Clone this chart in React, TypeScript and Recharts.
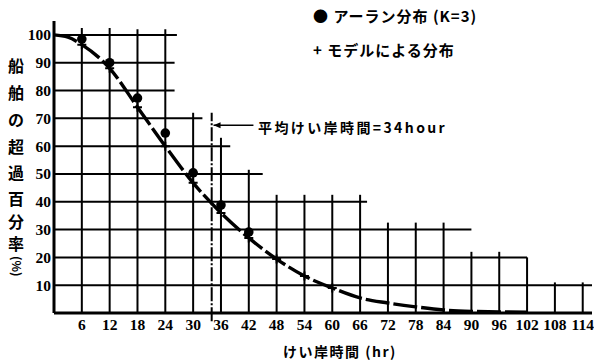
import React from 'react';
import { ComposedChart, Line, Scatter, XAxis, YAxis, ReferenceLine, ReferenceDot } from 'recharts';

const xTicks = [6, 12, 18, 24, 30, 36, 42, 48, 54, 60, 66, 72, 78, 84, 90, 96, 102, 108, 114];
const yTicks = [10, 20, 30, 40, 50, 60, 70, 80, 90, 100];

const curveHours = [0, 3, 6, 12, 18, 24, 30, 36, 42, 48, 54, 60, 66, 72, 78, 84, 90, 96, 102];
const curveValues = [100, 99.2, 96.5, 88, 74, 60, 46.8, 36, 27, 19.4, 13.3, 9, 5.4, 3.6, 2.2, 1.1, 0.6, 0.4, 0.3];

const erlangHours = [6, 12, 18, 24, 30, 36, 42];
const erlangValues = [98.5, 90, 77.3, 64.7, 50.4, 38.8, 29.1];

const modelHours = [6, 12, 18, 24, 30, 36, 42, 48, 54, 60];
const modelValues = [96.5, 88, 74, 60, 46.8, 36, 27, 19.4, 13.3, 9];

const hGridValues = [100, 90, 80, 70, 60, 50, 40, 30, 20, 10];
const hGridEnds = [26.5, 26, 26, 32, 38, 45, 67.5, 90, 102, 116];

const vGridHours = [6, 12, 18, 24, 30, 36, 42, 48, 54, 60, 66, 72, 78, 84, 90, 96, 102, 108, 114];
const vGridTops = [102.5, 102.5, 102, 102, 72, 63, 51.5, 42.5, 42.5, 42.5, 42.5, 32.5, 32.5, 32.5, 22, 22, 20, 11, 11];

const meanHour = 34;
const meanTop = 72;
const meanBottom = -3;
const arrowLevel = 67.5;
const arrowEnd = 43;

const legendErlang = '● アーラン分布 (K=3)';
const legendModel = '+ モデルによる分布';
const meanLabel = '平均けい岸時間=34hour';
const xLabel = 'けい岸時間 (hr)';
const yLabelChars = ['船', '舶', 'の', '超', '過', '百', '分', '率'];
const yLabelUnit = '(%)';

const curveData = curveHours.map((x, i) => ({ x, y: curveValues[i] }));
const erlangData = erlangHours.map((x, i) => ({ x, y: erlangValues[i] }));
const modelData = modelHours.map((x, i) => ({ x, y: modelValues[i] }));

const numFont = '"Liberation Serif", serif';
const jpFont = '"Noto Sans CJK JP", sans-serif';

const PlusShape = (props: any) => {
  const { cx, cy } = props;
  return (
    <path d={`M${cx - 4.5},${cy}H${cx + 4.5}M${cx},${cy - 4.5}V${cy + 4.5}`} stroke="#000" strokeWidth={2} fill="none" />
  );
};

const DotShape = (props: any) => {
  const { cx, cy } = props;
  return <circle cx={cx} cy={cy} r={4.8} fill="#000" />;
};

const ArrowHead = (props: any) => {
  const { cx, cy } = props;
  return <path d={`M${cx},${cy}L${cx + 7},${cy - 3}L${cx + 7},${cy + 3}Z`} fill="#000" />;
};

const yCharTops = [56, 83, 110, 137, 163, 189, 212, 234];

export default function App() {
  const tickStyle = { fontFamily: numFont, fontWeight: 700, fontSize: 15.5, fill: '#000' };
  return (
    <div style={{ position: 'absolute', left: 0, top: 0, width: 594, height: 362, background: '#fff' }}>
      <ComposedChart width={594} height={362} margin={{ top: 21, right: 2, bottom: 19, left: 0 }}>
        <XAxis
          type="number"
          dataKey="x"
          domain={[0, 116]}
          ticks={xTicks}
          allowDataOverflow
          axisLine={{ stroke: '#000', strokeWidth: 3 }}
          tickLine={false}
          tickSize={4}
          tickMargin={2}
          height={30}
          tick={tickStyle}
          interval={0}
        />
        <YAxis
          type="number"
          dataKey="y"
          domain={[0, 105]}
          ticks={yTicks}
          allowDataOverflow
          axisLine={{ stroke: '#000', strokeWidth: 3 }}
          tickLine={false}
          tickSize={3}
          tickMargin={0}
          width={54}
          tick={tickStyle}
          interval={0}
        />
        {hGridValues.map((v, i) => (
          <ReferenceLine
            key={'h' + v}
            segment={[{ x: 0, y: v }, { x: hGridEnds[i], y: v }]}
            stroke="#000"
            strokeWidth={2}
            ifOverflow="visible"
          />
        ))}
        {vGridHours.map((h, i) => (
          <ReferenceLine
            key={'v' + h}
            segment={[{ x: h, y: 0 }, { x: h, y: vGridTops[i] }]}
            stroke="#000"
            strokeWidth={2}
            ifOverflow="visible"
          />
        ))}
        <ReferenceLine
          segment={[{ x: meanHour, y: meanBottom }, { x: meanHour, y: meanTop }]}
          stroke="#000"
          strokeWidth={2}
          strokeDasharray="14 2 2 2"
          ifOverflow="visible"
        />
        <ReferenceLine
          segment={[{ x: meanHour + 0.4, y: arrowLevel }, { x: arrowEnd, y: arrowLevel }]}
          stroke="#000"
          strokeWidth={1.5}
          ifOverflow="visible"
        />
        <ReferenceDot x={meanHour + 0.4} y={arrowLevel} r={3} shape={ArrowHead} ifOverflow="visible" />
        <Line
          data={curveData}
          dataKey="y"
          type="monotone"
          stroke="#000"
          strokeWidth={3.4}
          strokeDasharray="24 4"
          dot={false}
          isAnimationActive={false}
        />
        <Scatter data={modelData} dataKey="y" shape={PlusShape} isAnimationActive={false} />
        <Scatter data={erlangData} dataKey="y" shape={DotShape} isAnimationActive={false} />
      </ComposedChart>
      <div style={{ position: 'absolute', left: 313, top: 5, fontFamily: jpFont, fontWeight: 700, fontSize: 15, letterSpacing: 1, whiteSpace: 'pre', color: '#000' }}>
        {legendErlang}
      </div>
      <div style={{ position: 'absolute', left: 313, top: 39, fontFamily: jpFont, fontWeight: 700, fontSize: 15, letterSpacing: 1, whiteSpace: 'pre', color: '#000' }}>
        {legendModel}
      </div>
      <div style={{ position: 'absolute', left: 258, top: 117, fontFamily: jpFont, fontWeight: 700, fontSize: 14, letterSpacing: 2.4, whiteSpace: 'pre', color: '#000' }}>
        {meanLabel}
      </div>
      <div style={{ position: 'absolute', left: 283, top: 341, fontFamily: jpFont, fontWeight: 700, fontSize: 14, letterSpacing: 1.5, whiteSpace: 'pre', color: '#000' }}>
        {xLabel}
      </div>
      {yLabelChars.map((c, i) => (
        <div key={c + i} style={{ position: 'absolute', left: 8, top: yCharTops[i], fontFamily: jpFont, fontWeight: 700, fontSize: 16, lineHeight: '18px', color: '#000' }}>
          {c}
        </div>
      ))}
      <div style={{ position: 'absolute', left: 10, top: 256, fontFamily: jpFont, fontWeight: 700, fontSize: 12, lineHeight: '14px', writingMode: 'vertical-rl', whiteSpace: 'pre', color: '#000' }}>
        {yLabelUnit}
      </div>
    </div>
  );
}
